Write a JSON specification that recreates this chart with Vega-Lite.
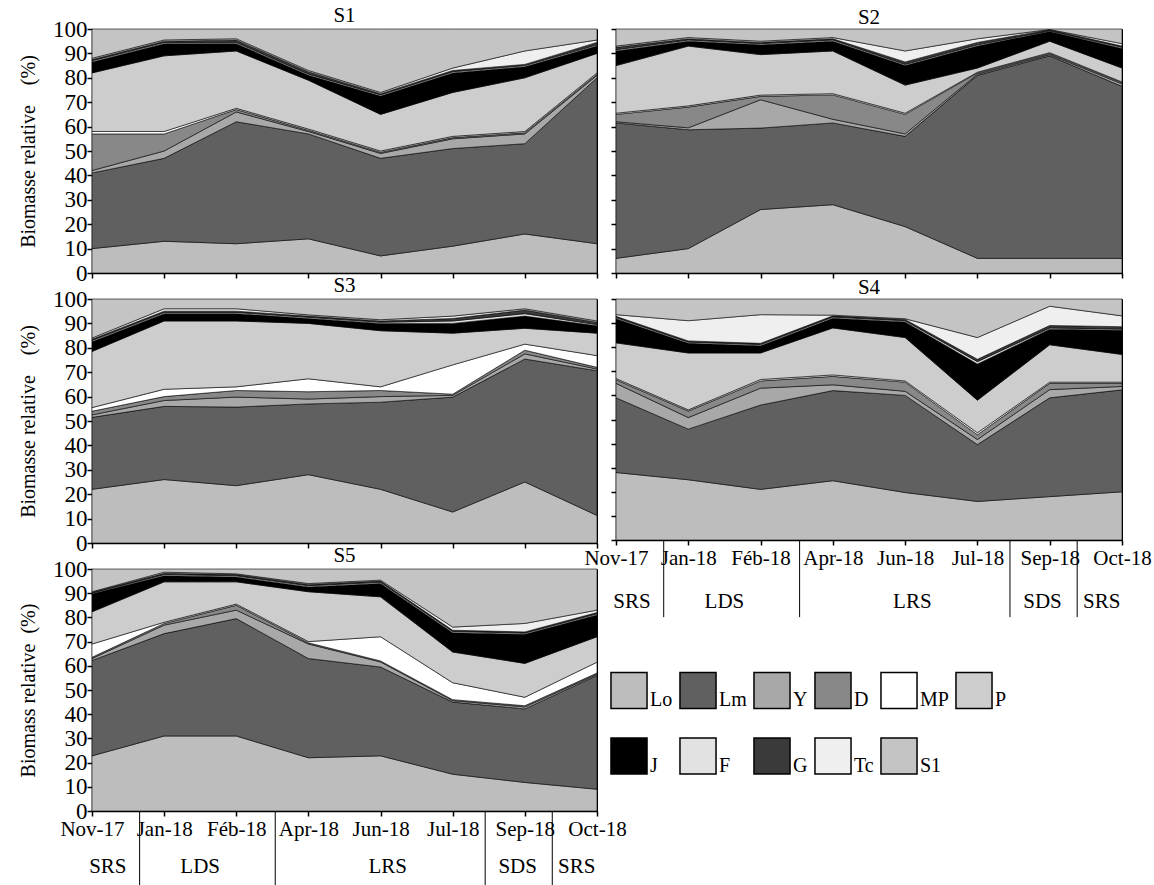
{
  "$schema": "https://vega.github.io/schema/vega-lite/v6.json",
  "background": "white",
  "padding": {"left": 18, "top": 4, "right": 5, "bottom": 0},
  "datasets": {
    "bio": [
      {"site":"S1","t":0,"Lo":10,"Lm":31,"Y":1,"D":15,"MP":1,"P":24,"J":4.5,"F":0.5,"G":0.5,"Tc":0.5,"S1":12},
      {"site":"S1","t":1,"Lo":13,"Lm":34,"Y":3,"D":7,"MP":1,"P":31,"J":5,"F":0.5,"G":0.5,"Tc":0.5,"S1":4.5},
      {"site":"S1","t":2,"Lo":12,"Lm":50,"Y":4,"D":1,"MP":0.5,"P":23.5,"J":3,"F":0.5,"G":1,"Tc":0.5,"S1":4},
      {"site":"S1","t":3,"Lo":14,"Lm":43,"Y":1,"D":0.5,"MP":0.5,"P":20,"J":2,"F":0.5,"G":1,"Tc":0.5,"S1":17},
      {"site":"S1","t":4,"Lo":7,"Lm":40,"Y":2,"D":0.5,"MP":0.5,"P":15,"J":7.5,"F":0.5,"G":0.5,"Tc":0.5,"S1":26},
      {"site":"S1","t":5,"Lo":11,"Lm":40,"Y":4,"D":0.5,"MP":0.5,"P":18,"J":8,"F":0.5,"G":0.5,"Tc":1,"S1":16},
      {"site":"S1","t":6,"Lo":16,"Lm":37,"Y":4,"D":0.5,"MP":0.5,"P":22,"J":4.5,"F":0.5,"G":0.5,"Tc":5.5,"S1":9},
      {"site":"S1","t":7,"Lo":12,"Lm":68,"Y":1,"D":0.5,"MP":0.5,"P":8,"J":3,"F":0.5,"G":1,"Tc":1,"S1":4.5},
      {"site":"S2","t":0,"Lo":6,"Lm":55.5,"Y":0.5,"D":3,"MP":0.5,"P":19.5,"J":6,"F":0.5,"G":1,"Tc":0.5,"S1":7},
      {"site":"S2","t":1,"Lo":10,"Lm":48.7,"Y":0.8,"D":8.5,"MP":0.5,"P":24.5,"J":2,"F":0.5,"G":0.5,"Tc":0.5,"S1":3.5},
      {"site":"S2","t":2,"Lo":26,"Lm":33.4,"Y":11.6,"D":1.4,"MP":0.5,"P":16.6,"J":4,"F":0.5,"G":0.5,"Tc":0.5,"S1":5},
      {"site":"S2","t":3,"Lo":28,"Lm":33.5,"Y":1.5,"D":10,"MP":0.5,"P":17.5,"J":4,"F":0.5,"G":0.5,"Tc":0.5,"S1":3.5},
      {"site":"S2","t":4,"Lo":19,"Lm":37,"Y":1,"D":8,"MP":0.5,"P":11.5,"J":8,"F":0.5,"G":1,"Tc":4.5,"S1":9},
      {"site":"S2","t":5,"Lo":6,"Lm":75,"Y":0.5,"D":0.5,"MP":0.3,"P":1.7,"J":9,"F":0.5,"G":1,"Tc":1.5,"S1":4},
      {"site":"S2","t":6,"Lo":6,"Lm":83,"Y":0.5,"D":0.5,"MP":0.3,"P":4.7,"J":4,"F":0.3,"G":0.4,"Tc":0.1,"S1":0.2},
      {"site":"S2","t":7,"Lo":6,"Lm":70.5,"Y":1,"D":0.5,"MP":0.3,"P":5.7,"J":8,"F":0.5,"G":0.5,"Tc":1,"S1":6},
      {"site":"S3","t":0,"Lo":22,"Lm":29.5,"Y":1,"D":1.5,"MP":1.5,"P":23,"J":4,"F":0.5,"G":0.5,"Tc":0.5,"S1":16},
      {"site":"S3","t":1,"Lo":26,"Lm":30,"Y":2.4,"D":1.6,"MP":3,"P":28,"J":3,"F":0.5,"G":0.5,"Tc":1,"S1":4},
      {"site":"S3","t":2,"Lo":23.5,"Lm":32.2,"Y":4.1,"D":2.7,"MP":1.5,"P":27,"J":3,"F":0.5,"G":0.5,"Tc":1,"S1":4},
      {"site":"S3","t":3,"Lo":28,"Lm":29,"Y":2,"D":3,"MP":5.3,"P":22.7,"J":2,"F":0.5,"G":0.5,"Tc":0.5,"S1":6.5},
      {"site":"S3","t":4,"Lo":22,"Lm":35.7,"Y":2.3,"D":2.5,"MP":1.5,"P":23,"J":3,"F":0.5,"G":0.5,"Tc":0.5,"S1":8.5},
      {"site":"S3","t":5,"Lo":12.7,"Lm":47.1,"Y":0.7,"D":0.5,"MP":12,"P":13,"J":4,"F":1,"G":1,"Tc":1,"S1":7},
      {"site":"S3","t":6,"Lo":25,"Lm":50.4,"Y":2.1,"D":1.5,"MP":2.5,"P":6.5,"J":5,"F":1,"G":1.5,"Tc":0.5,"S1":4},
      {"site":"S3","t":7,"Lo":11.3,"Lm":59.3,"Y":0.7,"D":0.7,"MP":4.8,"P":9.2,"J":3,"F":0.5,"G":1,"Tc":0.5,"S1":9},
      {"site":"S4","t":0,"Lo":28,"Lm":31,"Y":6,"D":1.5,"MP":0.5,"P":14.8,"J":10,"F":0.5,"G":0.5,"Tc":0.7,"S1":6.5},
      {"site":"S4","t":1,"Lo":25,"Lm":21,"Y":4.8,"D":2.7,"MP":0.5,"P":23.6,"J":4,"F":0.5,"G":0.5,"Tc":8.4,"S1":9},
      {"site":"S4","t":2,"Lo":21,"Lm":35,"Y":7,"D":3,"MP":0.6,"P":11,"J":3,"F":0.5,"G":0.5,"Tc":11.9,"S1":6.5},
      {"site":"S4","t":3,"Lo":24.6,"Lm":37.4,"Y":2.4,"D":3.5,"MP":0.6,"P":19.5,"J":4,"F":0.5,"G":0.5,"Tc":0.3,"S1":6.7},
      {"site":"S4","t":4,"Lo":19.7,"Lm":40.3,"Y":1.7,"D":3.8,"MP":0.5,"P":18,"J":6.5,"F":0.5,"G":0.5,"Tc":0.3,"S1":8.2},
      {"site":"S4","t":5,"Lo":16,"Lm":23.6,"Y":2.1,"D":2,"MP":0.8,"P":13.5,"J":15,"F":1,"G":1,"Tc":9,"S1":16},
      {"site":"S4","t":6,"Lo":18,"Lm":41,"Y":3.4,"D":2.6,"MP":0.5,"P":15.5,"J":6.5,"F":0.5,"G":1,"Tc":8,"S1":3},
      {"site":"S4","t":7,"Lo":20,"Lm":42.3,"Y":1.4,"D":1.3,"MP":0.5,"P":11.5,"J":10,"F":0.5,"G":1,"Tc":4.5,"S1":7},
      {"site":"S5","t":0,"Lo":22.8,"Lm":39.4,"Y":0.8,"D":0.5,"MP":5.5,"P":13.3,"J":7.5,"F":0.3,"G":0.3,"Tc":0.2,"S1":9.4},
      {"site":"S5","t":1,"Lo":31,"Lm":42.3,"Y":3.5,"D":0.7,"MP":0.5,"P":16.7,"J":2.5,"F":0.5,"G":0.5,"Tc":0.5,"S1":1.3},
      {"site":"S5","t":2,"Lo":31,"Lm":48.5,"Y":3.5,"D":2,"MP":0.5,"P":9.2,"J":2,"F":0.5,"G":0.5,"Tc":0.3,"S1":2},
      {"site":"S5","t":3,"Lo":22,"Lm":41,"Y":6,"D":0.5,"MP":0.5,"P":20.6,"J":2,"F":0.5,"G":0.5,"Tc":0.4,"S1":6},
      {"site":"S5","t":4,"Lo":22.8,"Lm":36.7,"Y":2.1,"D":0.4,"MP":10,"P":16.5,"J":5.5,"F":0.5,"G":0.5,"Tc":0.4,"S1":4.6},
      {"site":"S5","t":5,"Lo":15.2,"Lm":29.8,"Y":0.6,"D":0.4,"MP":7,"P":12.7,"J":8,"F":0.5,"G":0.5,"Tc":1.3,"S1":24},
      {"site":"S5","t":6,"Lo":11.8,"Lm":30.4,"Y":0.8,"D":0.5,"MP":3.5,"P":14,"J":12,"F":0.5,"G":0.5,"Tc":3.5,"S1":22.5},
      {"site":"S5","t":7,"Lo":9,"Lm":47,"Y":0.5,"D":0.5,"MP":4.5,"P":10.5,"J":9,"F":0.5,"G":0.5,"Tc":1,"S1":17}
    ],
    "cats": [
      {"cat":"Lo","idx":1},{"cat":"Lm","idx":2},{"cat":"Y","idx":3},{"cat":"D","idx":4},{"cat":"MP","idx":5},{"cat":"P","idx":6},
      {"cat":"J","idx":7},{"cat":"F","idx":8},{"cat":"G","idx":9},{"cat":"Tc","idx":10},{"cat":"S1","idx":11}
    ],
    "seasons": [
      {"season":"SRS","pos":0.22},{"season":"LDS","pos":1.5},{"season":"LRS","pos":4.1},{"season":"SDS","pos":5.9},{"season":"SRS","pos":6.72}
    ],
    "bounds": [
      {"at":0.66},{"at":2.54},{"at":5.45},{"at":6.38}
    ]
  },
  "bounds": "flush",
  "columns": 2,
  "spacing": {"row": 26, "column": 19},
  "concat": [
    {
      "width": 505, "height": 244,
      "title": {"text": "S1", "offset": -8},
      "data": {"name": "bio"},
      "transform": [
        {"filter": "datum.site === 'S1'"},
        {"fold": ["Lo","Lm","Y","D","MP","P","J","F","G","Tc","S1"], "as": ["cat","pct"]},
        {"lookup": "cat", "from": {"data": {"name": "cats"}, "key": "cat", "fields": ["idx"]}}
      ],
      "mark": {"type": "area", "stroke": "black", "strokeWidth": 0.6},
      "encoding": {
        "x": {"field": "t", "type": "quantitative", "scale": {"domain": [0,7], "nice": false, "zero": false}, "axis": {"values": [0,1,2,3,4,5,6,7], "labels": false, "title": null}},
        "y": {"field": "pct", "type": "quantitative", "stack": "zero", "scale": {"domain": [0,100], "nice": false}, "axis": {"values": [0,10,20,30,40,50,60,70,80,90,100], "title": "Biomasse relative\u00a0\u00a0\u00a0\u00a0(%)"}},
        "color": {"field": "cat", "type": "nominal", "sort": ["Lo","Lm","Y","D","MP","P","J","F","G","Tc","S1"],
          "scale": {"domain": ["Lo","Lm","Y","D","MP","P","J","F","G","Tc","S1"], "range": ["#bdbdbd","#606060","#a8a8a8","#888888","#ffffff","#cdcdcd","#000000","#e2e2e2","#3a3a3a","#efefef","#c4c4c4"]},
          "legend": {"orient": "none", "legendX": 518, "legendY": 642, "columns": 6, "direction": "horizontal", "title": null}},
        "order": {"field": "idx", "type": "quantitative"}
      }
    },
    {
      "width": 506, "height": 244,
      "title": {"text": "S2", "offset": 0},
      "data": {"name": "bio"},
      "transform": [
        {"filter": "datum.site === 'S2'"},
        {"fold": ["Lo","Lm","Y","D","MP","P","J","F","G","Tc","S1"], "as": ["cat","pct"]},
        {"lookup": "cat", "from": {"data": {"name": "cats"}, "key": "cat", "fields": ["idx"]}}
      ],
      "mark": {"type": "area", "stroke": "black", "strokeWidth": 0.6},
      "encoding": {
        "x": {"field": "t", "type": "quantitative", "scale": {"domain": [0,7], "nice": false, "zero": false}, "axis": {"values": [0,1,2,3,4,5,6,7], "labels": false, "title": null}},
        "y": {"field": "pct", "type": "quantitative", "stack": "zero", "scale": {"domain": [0,100], "nice": false}, "axis": {"values": [0,10,20,30,40,50,60,70,80,90,100], "labels": false, "title": null}},
        "color": {"field": "cat", "type": "nominal", "sort": ["Lo","Lm","Y","D","MP","P","J","F","G","Tc","S1"],
          "scale": {"domain": ["Lo","Lm","Y","D","MP","P","J","F","G","Tc","S1"], "range": ["#bdbdbd","#606060","#a8a8a8","#888888","#ffffff","#cdcdcd","#000000","#e2e2e2","#3a3a3a","#efefef","#c4c4c4"]},
          "legend": {"orient": "none", "legendX": 518, "legendY": 642, "columns": 6, "direction": "horizontal", "title": null}},
        "order": {"field": "idx", "type": "quantitative"}
      }
    },
    {
      "width": 505, "height": 244,
      "title": {"text": "S3", "offset": -8},
      "data": {"name": "bio"},
      "transform": [
        {"filter": "datum.site === 'S3'"},
        {"fold": ["Lo","Lm","Y","D","MP","P","J","F","G","Tc","S1"], "as": ["cat","pct"]},
        {"lookup": "cat", "from": {"data": {"name": "cats"}, "key": "cat", "fields": ["idx"]}}
      ],
      "mark": {"type": "area", "stroke": "black", "strokeWidth": 0.6},
      "encoding": {
        "x": {"field": "t", "type": "quantitative", "scale": {"domain": [0,7], "nice": false, "zero": false}, "axis": {"values": [0,1,2,3,4,5,6,7], "labels": false, "title": null}},
        "y": {"field": "pct", "type": "quantitative", "stack": "zero", "scale": {"domain": [0,100], "nice": false}, "axis": {"values": [0,10,20,30,40,50,60,70,80,90,100], "title": "Biomasse relative\u00a0\u00a0\u00a0\u00a0(%)"}},
        "color": {"field": "cat", "type": "nominal", "sort": ["Lo","Lm","Y","D","MP","P","J","F","G","Tc","S1"],
          "scale": {"domain": ["Lo","Lm","Y","D","MP","P","J","F","G","Tc","S1"], "range": ["#bdbdbd","#606060","#a8a8a8","#888888","#ffffff","#cdcdcd","#000000","#e2e2e2","#3a3a3a","#efefef","#c4c4c4"]},
          "legend": {"orient": "none", "legendX": 518, "legendY": 642, "columns": 6, "direction": "horizontal", "title": null}},
        "order": {"field": "idx", "type": "quantitative"}
      }
    },
    {
      "width": 506, "height": 241,
      "title": {"text": "S4", "offset": 0},
      "layer": [
        {
          "data": {"name": "bio"},
          "transform": [
            {"filter": "datum.site === 'S4'"},
            {"fold": ["Lo","Lm","Y","D","MP","P","J","F","G","Tc","S1"], "as": ["cat","pct"]},
            {"lookup": "cat", "from": {"data": {"name": "cats"}, "key": "cat", "fields": ["idx"]}}
          ],
          "mark": {"type": "area", "stroke": "black", "strokeWidth": 0.6},
          "encoding": {
            "x": {"field": "t", "type": "quantitative", "scale": {"domain": [0,7], "nice": false, "zero": false}, "axis": {"values": [0,1,2,3,4,5,6,7], "title": null, "labelFlush": false, "labelOverlap": false, "labelExpr": "['Nov-17','Jan-18','Féb-18','Apr-18','Jun-18','Jul-18','Sep-18','Oct-18'][datum.value]"}},
            "y": {"field": "pct", "type": "quantitative", "stack": "zero", "scale": {"domain": [0,100], "nice": false}, "axis": {"values": [0,10,20,30,40,50,60,70,80,90,100], "labels": false, "title": null}},
            "color": {"field": "cat", "type": "nominal", "sort": ["Lo","Lm","Y","D","MP","P","J","F","G","Tc","S1"],
              "scale": {"domain": ["Lo","Lm","Y","D","MP","P","J","F","G","Tc","S1"], "range": ["#bdbdbd","#606060","#a8a8a8","#888888","#ffffff","#cdcdcd","#000000","#e2e2e2","#3a3a3a","#efefef","#c4c4c4"]},
              "legend": {"orient": "none", "legendX": 518, "legendY": 642, "columns": 6, "direction": "horizontal", "title": null}},
            "order": {"field": "idx", "type": "quantitative"}
          }
        },
        {
          "data": {"name": "seasons"},
          "mark": {"type": "text", "dy": 62, "fontSize": 21, "font": "Liberation Serif", "baseline": "middle", "align": "center", "color": "black"},
          "encoding": {
            "x": {"field": "pos", "type": "quantitative", "scale": {"domain": [0,7], "nice": false, "zero": false}, "axis": {"values": [0,1,2,3,4,5,6,7], "title": null, "labelFlush": false, "labelOverlap": false, "labelExpr": "['Nov-17','Jan-18','Féb-18','Apr-18','Jun-18','Jul-18','Sep-18','Oct-18'][datum.value]"}},
            "y": {"datum": 0, "type": "quantitative", "scale": {"domain": [0,100], "nice": false}, "axis": {"values": [0,10,20,30,40,50,60,70,80,90,100], "labels": false, "title": null}},
            "text": {"field": "season"}
          }
        },
        {
          "data": {"name": "bounds"},
          "mark": {"type": "rule", "color": "black", "strokeWidth": 1},
          "encoding": {
            "x": {"field": "at", "type": "quantitative", "scale": {"domain": [0,7], "nice": false, "zero": false}, "axis": {"values": [0,1,2,3,4,5,6,7], "title": null, "labelFlush": false, "labelOverlap": false, "labelExpr": "['Nov-17','Jan-18','Féb-18','Apr-18','Jun-18','Jul-18','Sep-18','Oct-18'][datum.value]"}},
            "y": {"datum": 0, "type": "quantitative", "scale": {"domain": [0,100], "nice": false}, "axis": {"values": [0,10,20,30,40,50,60,70,80,90,100], "labels": false, "title": null}},
            "y2": {"datum": -32}
          }
        }
      ]
    },
    {
      "width": 505, "height": 242,
      "title": {"text": "S5", "offset": -8},
      "layer": [
        {
          "data": {"name": "bio"},
          "transform": [
            {"filter": "datum.site === 'S5'"},
            {"fold": ["Lo","Lm","Y","D","MP","P","J","F","G","Tc","S1"], "as": ["cat","pct"]},
            {"lookup": "cat", "from": {"data": {"name": "cats"}, "key": "cat", "fields": ["idx"]}}
          ],
          "mark": {"type": "area", "stroke": "black", "strokeWidth": 0.6},
          "encoding": {
            "x": {"field": "t", "type": "quantitative", "scale": {"domain": [0,7], "nice": false, "zero": false}, "axis": {"values": [0,1,2,3,4,5,6,7], "title": null, "labelFlush": false, "labelOverlap": false, "labelExpr": "['Nov-17','Jan-18','Féb-18','Apr-18','Jun-18','Jul-18','Sep-18','Oct-18'][datum.value]"}},
            "y": {"field": "pct", "type": "quantitative", "stack": "zero", "scale": {"domain": [0,100], "nice": false}, "axis": {"values": [0,10,20,30,40,50,60,70,80,90,100], "title": "Biomass relative\u00a0\u00a0(%)"}},
            "color": {"field": "cat", "type": "nominal", "sort": ["Lo","Lm","Y","D","MP","P","J","F","G","Tc","S1"],
              "scale": {"domain": ["Lo","Lm","Y","D","MP","P","J","F","G","Tc","S1"], "range": ["#bdbdbd","#606060","#a8a8a8","#888888","#ffffff","#cdcdcd","#000000","#e2e2e2","#3a3a3a","#efefef","#c4c4c4"]},
              "legend": {"orient": "none", "legendX": 518, "legendY": 642, "columns": 6, "direction": "horizontal", "title": null}},
            "order": {"field": "idx", "type": "quantitative"}
          }
        },
        {
          "data": {"name": "seasons"},
          "mark": {"type": "text", "dy": 56, "fontSize": 21, "font": "Liberation Serif", "baseline": "middle", "align": "center", "color": "black"},
          "encoding": {
            "x": {"field": "pos", "type": "quantitative", "scale": {"domain": [0,7], "nice": false, "zero": false}, "axis": {"values": [0,1,2,3,4,5,6,7], "title": null, "labelFlush": false, "labelOverlap": false, "labelExpr": "['Nov-17','Jan-18','Féb-18','Apr-18','Jun-18','Jul-18','Sep-18','Oct-18'][datum.value]"}},
            "y": {"datum": 0, "type": "quantitative", "scale": {"domain": [0,100], "nice": false}, "axis": {"values": [0,10,20,30,40,50,60,70,80,90,100], "title": "Biomass relative\u00a0\u00a0(%)"}},
            "text": {"field": "season"}
          }
        },
        {
          "data": {"name": "bounds"},
          "mark": {"type": "rule", "color": "black", "strokeWidth": 1},
          "encoding": {
            "x": {"field": "at", "type": "quantitative", "scale": {"domain": [0,7], "nice": false, "zero": false}, "axis": {"values": [0,1,2,3,4,5,6,7], "title": null, "labelFlush": false, "labelOverlap": false, "labelExpr": "['Nov-17','Jan-18','Féb-18','Apr-18','Jun-18','Jul-18','Sep-18','Oct-18'][datum.value]"}},
            "y": {"datum": 0, "type": "quantitative", "scale": {"domain": [0,100], "nice": false}, "axis": {"values": [0,10,20,30,40,50,60,70,80,90,100], "title": "Biomass relative\u00a0\u00a0(%)"}},
            "y2": {"datum": -31}
          }
        }
      ]
    }
  ],
  "config": {
    "view": {"stroke": "black", "strokeWidth": 1},
    "axis": {
      "grid": false,
      "domainColor": "black", "domainWidth": 1.5,
      "tickColor": "black", "tickWidth": 1.5, "tickSize": 5,
      "labelFont": "Liberation Serif", "labelFontSize": 21, "labelColor": "black", "labelPadding": 2,
      "titleFont": "Liberation Serif", "titleFontSize": 20, "titleFontWeight": "normal", "titleColor": "black", "titlePadding": 14
    },
    "axisY": {"labelFontSize": 23, "labelPadding": 0},
    "title": {"font": "Liberation Serif", "fontSize": 21, "fontWeight": "normal", "color": "black"},
    "legend": {
      "symbolType": "square", "symbolSize": 1300, "symbolStrokeColor": "black", "symbolStrokeWidth": 1.5, "symbolOpacity": 1,
      "labelFont": "Liberation Serif", "labelFontSize": 20, "labelColor": "black", "labelOffset": 2, "labelBaseline": "top",
      "columnPadding": 3, "rowPadding": 22, "padding": 0
    }
  }
}
